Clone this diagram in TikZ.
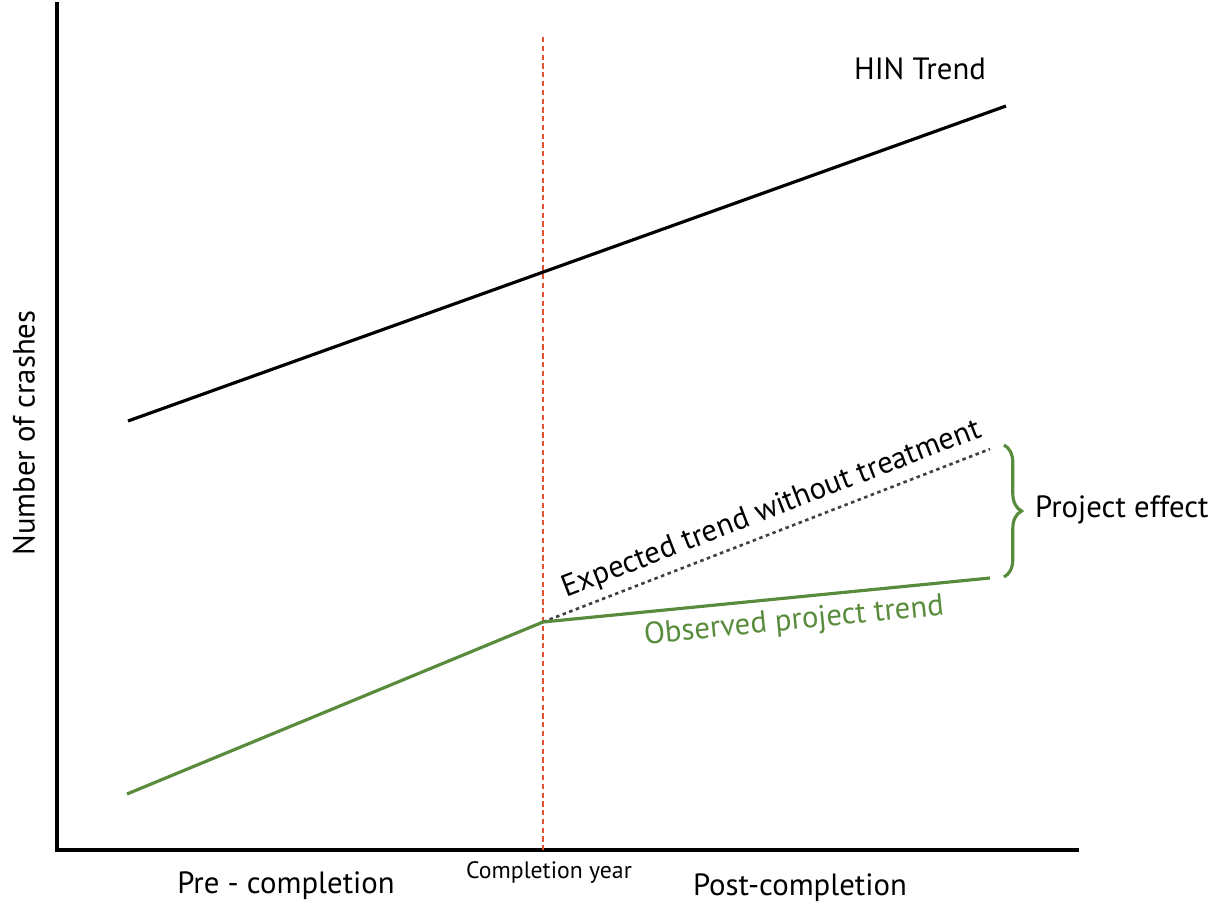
\documentclass[tikz,border=0pt]{standalone}
\usepackage{fontspec}
\setmainfont{PT Sans}
\usetikzlibrary{positioning,decorations.pathreplacing}
\definecolor{obsgreen}{RGB}{88,140,60}
\definecolor{yearred}{RGB}{230,80,50}
\tikzset{
  axis/.style={line width=1.9pt,black,line cap=rect},
  hin/.style={line width=1.8pt,black},
  observed/.style={line width=1.8pt,obsgreen},
  expected/.style={line width=1.5pt,black!75,dash pattern=on 2pt off 2pt},
  yearline/.style={line width=1.7pt,yearred,dash pattern=on 3pt off 2pt},
  effect/.style={line width=1.8pt,obsgreen,decorate,decoration={brace,amplitude=10pt}},
  lbl/.style={font=\fontsize{17.5}{20}\selectfont,inner sep=1pt},
  small/.style={font=\fontsize{13.5}{16}\selectfont,inner sep=1pt},
}

\begin{document}
\begin{tikzpicture}[x=0.02cm,y=-0.02cm]
  \useasboundingbox (0,0) rectangle (1215,904);
  % ------------- axes -------------
  \coordinate (top) at (57,4);
  \coordinate (origin) at (57,850);
  \coordinate (right) at (1077,850);
  \draw[axis] (top) -- (origin) -- (right);
  \node[lbl,rotate=90] (ylab) at (24,433) {Number of crashes};
  \node[lbl] (pre) at (286,886) {Pre - completion};
  \node[small] (year) at (549,872) {Completion year};
  \node[lbl] (post) at (800,888) {Post-completion};
  % ------------- completion year -------------
  \coordinate (ytop) at (543,37);
  \coordinate (ybot) at (543,850);
  \draw[yearline] (ytop) -- (ybot);
  % ------------- HIN trend -------------
  \coordinate (h0) at (128,421);
  \coordinate (h1) at (1006,106);
  \draw[hin] (h0) -- (h1);
  \node[lbl] (hinlab) at (920,69) {HIN Trend};
  % ------------- project trends -------------
  \coordinate (g0) at (127,794);
  \coordinate (g1) at (543,622);
  \coordinate (g2) at (990,578);
  \coordinate (e2) at (990,449);
  \draw[expected] (g1) -- (e2)
    node[lbl,text=black,pos=0.53,sloped,above=3pt] (explab) {Expected trend without treatment};
  \draw[observed] (g0) -- (g1) -- (g2);
  \node[lbl,text=obsgreen,rotate=5.6] (obslab) at (794,622) {Observed project trend};
  % ------------- project effect -------------
  \coordinate (b0) at (1004,445);
  \coordinate (b1) at (1004,577);
  \draw[effect] (b0) -- (b1);
  \node[lbl,anchor=west] (efflab) at (1033,510) {Project effect};
\end{tikzpicture}
\end{document}
